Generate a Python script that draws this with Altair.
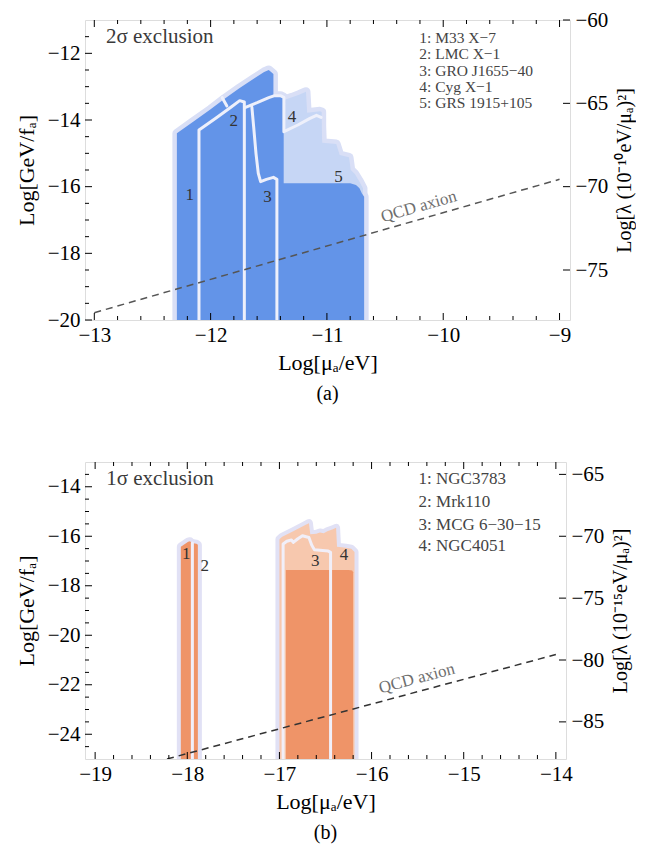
import altair as alt
import pandas as pd

FONT = "Liberation Serif, Times New Roman, serif"

# ---------------- panel (a): 2 sigma, stellar-mass black holes ----------------
a_xdom = [-13.08, -8.91]
a_ydom = [-20.0, -11.0]
a_rdom = [-78.0, -60.0]
a_xticks = [-13, -12, -11, -10, -9]
a_yticks = [-20, -18, -16, -14, -12]
a_rticks = [-75, -70, -65, -60]

# region tops (areas reach down to the bottom of the plot)
a1_x = [-12.29, -12.15, -12.0, -11.88, -11.75, -11.62, -11.54, -11.50, -11.46]          # M33 X-7
a1_y = [-14.40, -14.05, -13.68, -13.36, -13.04, -12.74, -12.56, -12.50, -12.62]
a2_x = [-12.10, -11.95, -11.82, -11.75, -11.71]                                          # LMC X-1
a2_y = [-14.30, -13.93, -13.60, -13.42, -13.46]
a3_x = [-11.69, -11.60, -11.50, -11.45, -11.40, -11.37]                                  # GRO J1655-40
a3_y = [-13.62, -13.48, -13.33, -13.27, -13.27, -13.32]
a4_x = [-11.37, -11.30, -11.24, -11.18, -11.17, -11.06, -11.045]                         # Cyg X-1 (light)
a4_y = [-13.40, -13.32, -13.24, -13.15, -13.78, -13.74, -13.76]
a5_x = [-11.37, -11.25, -11.15, -11.09, -11.05, -11.04, -10.92, -10.89, -10.81, -10.795, -10.76, -10.72, -10.69]  # GRS 1915+105 (light)
a5_y = [-14.35, -14.15, -13.96, -13.86, -13.92, -14.68, -14.72, -15.05, -15.12, -15.50, -15.62, -15.85, -16.05]
a45_x = [-11.42, -11.0, -10.80, -10.75, -10.72, -10.70, -10.68]                          # dark lower part
a45_y = [-15.90, -15.90, -15.90, -15.95, -16.05, -16.20, -16.30]
a_light_base = -16.3

# inner boundary lines
al2_x = [-12.10, -12.10, -11.95, -11.82, -11.75, -11.71, -11.71]
al2_y = [-20.0, -14.30, -13.93, -13.60, -13.42, -13.46, -20.0]
al1_x = [-11.90, -11.86]
al1_y = [-13.33, -13.58]
al3_x = [-11.70, -11.60, -11.50, -11.45, -11.40, -11.37, -11.37, -11.25, -11.15, -11.09, -11.05]
al3_y = [-13.62, -13.48, -13.33, -13.27, -13.27, -13.32, -14.35, -14.15, -13.96, -13.86, -13.92]
al3n_x = [-11.645, -11.63, -11.61, -11.59, -11.57, -11.52, -11.46, -11.43, -11.43]
al3n_y = [-13.62, -14.20, -15.00, -15.60, -15.85, -15.78, -15.72, -15.78, -20.0]

a_num_x = [-12.18, -11.80, -11.51, -11.30, -10.90]
a_num_y = [-16.25, -14.02, -16.30, -13.92, -15.72]
a_num_t = ["1", "2", "3", "4", "5"]

a_leg_t = ["1: M33 X\u22127", "2: LMC X\u22121", "3: GRO J1655\u221240", "4: Cyg X\u22121", "5: GRS 1915+105"]
a_leg_y = [-11.53, -12.03, -12.52, -13.01, -13.50]
a_leg_x = -10.206

a_qcd_x = [-13.0, -9.0]
a_qcd_y = [-19.78, -15.78]

# ---------------- panel (b): 1 sigma, supermassive black holes ----------------
b_xdom = [-19.11, -13.89]
b_ydom = [-25.0, -13.0]
b_rdom = [-88.0, -64.0]
b_xticks = [-19, -18, -17, -16, -15, -14]
b_yticks = [-24, -22, -20, -18, -16, -14]
b_rticks = [-85, -80, -75, -70, -65]

b1_x = [-18.07, -18.03, -17.99, -17.97, -17.955]          # NGC3783
b1_y = [-16.42, -16.32, -16.22, -16.20, -16.26]
b2_x = [-17.935, -17.90, -17.885]                          # Mrk110
b2_y = [-16.28, -16.30, -16.34]
b34_x = [-17.0, -16.97, -16.85, -16.72, -16.68, -16.665, -16.60, -16.56, -16.52, -16.48, -16.42, -16.385, -16.375, -16.28, -16.22, -16.185]
b34_y = [-16.12, -16.02, -15.80, -15.55, -15.47, -15.92, -15.90, -15.85, -15.88, -15.80, -15.72, -15.66, -16.42, -16.46, -16.50, -16.64]
b34d_x = [-16.93, -16.25, -16.21, -16.20]
b34d_y = [-17.36, -17.36, -17.38, -17.45]

bl2_x = [-17.945, -17.945]
bl2_y = [-25.0, -16.27]
bl3_x = [-16.96, -16.96, -16.92, -16.87, -16.85, -16.80, -16.75, -16.68, -16.65, -16.62, -16.47, -16.445, -16.445]
bl3_y = [-25.0, -16.31, -16.20, -16.15, -16.25, -16.10, -15.98, -16.05, -16.35, -16.55, -16.60, -16.65, -25.0]

b_num_x = [-18.01, -17.81, -16.61, -16.30]
b_num_y = [-16.71, -17.20, -17.02, -16.75]
b_num_t = ["1", "2", "3", "4"]

b_leg_t = ["1: NGC3783", "2: Mrk110", "3: MCG 6\u221230\u221215", "4: NGC4051"]
b_leg_y = [-13.69, -14.63, -15.53, -16.38]
b_leg_x = -15.49

b_qcd_x = [-18.22, -14.0]
b_qcd_y = [-25.0, -20.78]


def pts(xs, ys, base=None):
    df = pd.DataFrame({"x": xs, "y": ys, "i": list(range(len(xs)))})
    if base is not None:
        df["y2"] = base
    return df


def minors(lo, hi, step, skip):
    out = []
    n = int(round((hi - lo) / step))
    for k in range(n + 1):
        v = round(lo + k * step, 2)
        if abs(v / skip - round(v / skip)) > 1e-6:
            out.append(v)
    return out


LAB = 21     # tick label size
TIT = 22     # axis title size


def panel(P):
    W, H = P["w"], P["h"]
    xs = alt.Scale(domain=P["xdom"], nice=False, zero=False)
    ys = alt.Scale(domain=P["ydom"], nice=False, zero=False)
    rs = alt.Scale(domain=P["rdom"], nice=False, zero=False)
    common = dict(format="d", ticks=False, domain=False, grid=False, labelFont=FONT,
                  labelFontSize=LAB, labelColor="black", labelFlush=False, titleFont=FONT,
                  titleFontWeight="normal", titleColor="black")
    xax = alt.Axis(values=P["xticks"], labelPadding=4, title="Log[\u03bc\u2090/eV]", titlePadding=7,
                   titleFontSize=TIT, **common)
    yax = alt.Axis(values=P["yticks"], labelPadding=5, title="Log[GeV/f\u2090]", titlePadding=9,
                   titleFontSize=TIT, **common)
    rax = alt.Axis(orient="right", values=P["rticks"], labelPadding=5, title=P["rtitle"],
                   titleFontSize=20, titleAngle=270, titleBaseline="top", titlePadding=7, **common)

    def X(f="x"):
        return alt.X(f"{f}:Q", scale=xs, axis=xax)

    def Y(f="y"):
        return alt.Y(f"{f}:Q", scale=ys, axis=yax)

    layers = []
    # halo (outer glow) of every region
    for df in P["regions"]:
        layers.append(alt.Chart(df[0]).mark_area(fill=P["halo"], stroke=P["halo"], strokeWidth=P["halow"],
                                                 strokeJoin="round", clip=True)
                      .encode(x=X(), y=Y(), y2=alt.Y2("y2:Q")))
    # fills
    for df in P["regions"]:
        layers.append(alt.Chart(df[0]).mark_area(color=df[1], clip=True)
                      .encode(x=X(), y=Y(), y2=alt.Y2("y2:Q")))
    # inner boundaries
    for df in P["lines"]:
        layers.append(alt.Chart(df).mark_line(color=P["inner"], strokeWidth=3.0, strokeJoin="round",
                                              strokeCap="round", clip=True)
                      .encode(x=X(), y=Y(), order=alt.Order("i:Q")))
    # QCD axion line
    layers.append(alt.Chart(P["qcd"]).mark_line(color=P["qcdc"], strokeWidth=1.5, strokeDash=[7, 5], clip=True)
                  .encode(x=X(), y=Y(), order=alt.Order("i:Q")))
    layers.append(alt.Chart(P["qcdlab"]).mark_text(font=FONT, fontSize=17, color="#6f6f6f",
                                                   angle=P["qangle"], align="center", baseline="middle")
                  .encode(x=X(), y=Y(), text="t:N"))
    # region numbers
    layers.append(alt.Chart(P["nums"]).mark_text(font=FONT, fontSize=17, color="#333333",
                                                 align="center", baseline="middle")
                  .encode(x=X(), y=Y(), text="t:N"))
    # legend text
    layers.append(alt.Chart(P["leg"]).mark_text(font=FONT, fontSize=P["legsize"], color="#444444",
                                                align="left", baseline="middle")
                  .encode(x=X(), y=Y(), text="t:N"))
    layers.append(alt.Chart(P["head"]).mark_text(font=FONT, fontSize=21, color="#3a3a3a",
                                                 align="left", baseline="middle")
                  .encode(x=X(), y=Y(), text="t:N"))
    # frame ticks
    xmaj = pd.DataFrame({"v": P["xticks"]})
    xmin = pd.DataFrame({"v": P["xminor"]})
    ymaj = pd.DataFrame({"v": P["yticks"]})
    ymin = pd.DataFrame({"v": P["yminor"]})
    for d, L in ((xmaj, 7), (xmin, 4)):
        layers.append(alt.Chart(d).mark_rule(color="black", strokeWidth=1)
                      .encode(x=X("v"), y=alt.value(H), y2=alt.value(H - L)))
        layers.append(alt.Chart(d).mark_rule(color="black", strokeWidth=1)
                      .encode(x=X("v"), y=alt.value(0), y2=alt.value(L)))
    for d, L in ((ymaj, 7), (ymin, 4)):
        layers.append(alt.Chart(d).mark_rule(color="black", strokeWidth=1)
                      .encode(y=Y("v"), x=alt.value(0), x2=alt.value(L)))

    inner = alt.layer(*layers)
    right = alt.Chart(pd.DataFrame({"r": P["rticks"]})).mark_rule(color="black", strokeWidth=1).encode(
        y=alt.Y("r:Q", scale=rs, axis=rax), x=alt.value(W), x2=alt.value(W - 7))
    return alt.layer(inner, right).resolve_scale(y="independent").properties(
        width=W, height=H,
        title=alt.Title(P["caption"], orient="bottom", anchor="middle", font=FONT, fontSize=20,
                        fontWeight="normal", color="black", offset=11))


A = dict(
    w=485, h=300, xdom=a_xdom, ydom=a_ydom, rdom=a_rdom, xticks=a_xticks, yticks=a_yticks, rticks=a_rticks,
    xminor=minors(-13.0, -9.0, 0.2, 1.0), yminor=minors(-19.5, -11.5, 0.5, 2.0),
    rtitle="Log[\u03bb (10\u207b\u00b9\u2070eV/\u03bc\u2090)\u00b2]",
    halo="#d9dff6", halow=9, inner="#eef0fb", qcdc="#555555", qangle=344,
    regions=[
        (pts(a1_x, a1_y, a_ydom[0]), "#6394e8"),
        (pts(a2_x, a2_y, a_ydom[0]), "#6394e8"),
        (pts(a3_x, a3_y, a_ydom[0]), "#6394e8"),
        (pts(a4_x, a4_y, a_light_base), "#c6d6f5"),
        (pts(a5_x, a5_y, a_light_base), "#c6d6f5"),
        (pts(a45_x, a45_y, a_ydom[0]), "#6394e8"),
    ],
    lines=[pts(al2_x, al2_y), pts(al1_x, al1_y), pts(al3_x, al3_y), pts(al3n_x, al3n_y)],
    qcd=pts(a_qcd_x, a_qcd_y),
    qcdlab=pd.DataFrame({"x": [-10.21], "y": [-16.60], "t": ["QCD axion"]}),
    nums=pd.DataFrame({"x": a_num_x, "y": a_num_y, "t": a_num_t}),
    leg=pd.DataFrame({"x": [a_leg_x] * len(a_leg_t), "y": a_leg_y, "t": a_leg_t}), legsize=15.5,
    head=pd.DataFrame({"x": [-12.90], "y": [-11.5], "t": ["2\u03c3 exclusion"]}),
    caption="(a)",
)

B = dict(
    w=481, h=297, xdom=b_xdom, ydom=b_ydom, rdom=b_rdom, xticks=b_xticks, yticks=b_yticks, rticks=b_rticks,
    xminor=minors(-19.0, -14.0, 0.2, 1.0), yminor=minors(-24.5, -13.5, 0.5, 2.0),
    rtitle="Log[\u03bb (10\u207b\u00b9\u2075eV/\u03bc\u2090)\u00b2]",
    halo="#e1e1f5", halow=8, inner="#f1eff9", qcdc="#333333", qangle=345,
    regions=[
        (pts(b1_x, b1_y, b_ydom[0]), "#ef9468"),
        (pts(b2_x, b2_y, b_ydom[0]), "#ef9468"),
        (pts(b34_x, b34_y, b_ydom[0]), "#f7c8ae"),
        (pts(b34d_x, b34d_y, b_ydom[0]), "#ef9468"),
    ],
    lines=[pts(bl2_x, bl2_y), pts(bl3_x, bl3_y)],
    qcd=pts(b_qcd_x, b_qcd_y),
    qcdlab=pd.DataFrame({"x": [-15.51], "y": [-21.75], "t": ["QCD axion"]}),
    nums=pd.DataFrame({"x": b_num_x, "y": b_num_y, "t": b_num_t}),
    leg=pd.DataFrame({"x": [b_leg_x] * len(b_leg_t), "y": b_leg_y, "t": b_leg_t}), legsize=17,
    head=pd.DataFrame({"x": [-18.88], "y": [-13.69], "t": ["1\u03c3 exclusion"]}),
    caption="(b)",
)

chart = alt.vconcat(panel(A), panel(B), spacing=56).properties(
    padding={"left": 6, "top": 0, "right": 0, "bottom": 0}
).configure_view(stroke="black", strokeWidth=1).configure(background="white")

chart.save("out.html", embed_options={"renderer": "svg", "actions": False})
